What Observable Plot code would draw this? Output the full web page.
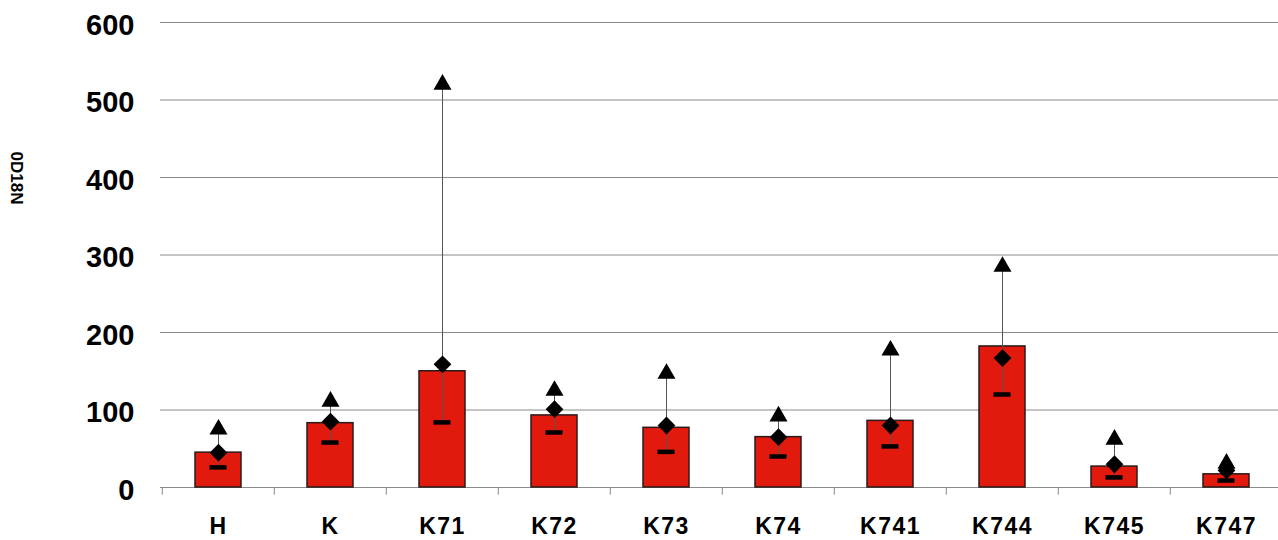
<!DOCTYPE html>
<html>
<head>
<meta charset="utf-8">
<script src="https://cdn.jsdelivr.net/npm/d3@7"></script>
<script src="https://cdn.jsdelivr.net/npm/@observablehq/plot@0.6"></script>
<style>
  html, body { margin: 0; padding: 0; background: #ffffff; }
  #chart svg { display: block; }
</style>
</head>
<body>
<div id="chart"></div>
<script>
const categories = ["H", "K", "K71", "K72", "K73", "K74", "K741", "K744", "K745", "K747"];
const barValues  = [45, 83, 150, 93, 77, 65, 86, 182, 27, 17];
const meanValues = [45, 85, 159, 101, 80, 65, 80, 167, 30, 22];
const minValues  = [26, 58, 84, 71, 46, 40, 53, 120, 13, 9];
const maxValues  = [75, 111, 520, 125, 147, 92, 177, 285, 62, 31];
const yTicks = [0, 100, 200, 300, 400, 500, 600];
const yTitle = "0D18N";

const data = categories.map((c, i) => ({
  cat: c, bar: barValues[i], mean: meanValues[i], min: minValues[i], max: maxValues[i]
}));

const font = "'Liberation Sans', Arial, Helvetica, sans-serif";

const chart = Plot.plot({
  width: 1278,
  height: 540,
  marginLeft: 160,
  marginRight: 0,
  marginTop: 22,
  marginBottom: 53,
  style: { fontFamily: font, background: "#ffffff", overflow: "visible" },
  x: { domain: categories, range: [160, 1284], paddingInner: 0.59, paddingOuter: 0.295, label: null },
  y: { domain: [0, 600], label: null },
  marks: [
    Plot.ruleY(yTicks, { stroke: "#8a8a8a", strokeWidth: 1 }),
    Plot.ruleX(categories, { x: d => d, dx: -56.2, y1: 0, y2: -10, stroke: "#8a8a8a", strokeWidth: 1 }),
    Plot.barY(data, { x: "cat", y: "bar", fill: "#e2190d", stroke: "#2a1a1a", strokeWidth: 1.5 }),
    Plot.ruleX(data, { x: "cat", y1: "min", y2: "max", stroke: "#555", strokeWidth: 1 }),
    Plot.tickY(data, { x: "cat", y: "min", stroke: "#000", strokeWidth: 4.5, insetLeft: 14.5, insetRight: 14.5 }),
    Plot.dot(data, { x: "cat", y: "mean", symbol: "diamond2", r: 8, fill: "#000", stroke: "none" }),
    Plot.dot(data, { x: "cat", y: "max", symbol: "triangle", r: 6.7, fill: "#000", stroke: "none" }),
    Plot.axisY(yTicks, { tickSize: 0, tickPadding: 26, fontSize: 29, fontWeight: "bold", dy: 3, fill: "#000" }),
    Plot.axisX({ tickSize: 0, tickPadding: 30, fontSize: 23, fontWeight: "bold", fill: "#000", label: null }),
    Plot.text([yTitle], { frameAnchor: "left", textAnchor: "middle", dx: -144, dy: -77, rotate: 90, fontSize: 17, fontWeight: "bold", fill: "#000" })
  ]
});
chart.querySelectorAll("g[aria-label='x-axis tick label'] text").forEach(t => t.setAttribute("letter-spacing", "1.5"));
document.getElementById("chart").appendChild(chart);
</script>
</body>
</html>
